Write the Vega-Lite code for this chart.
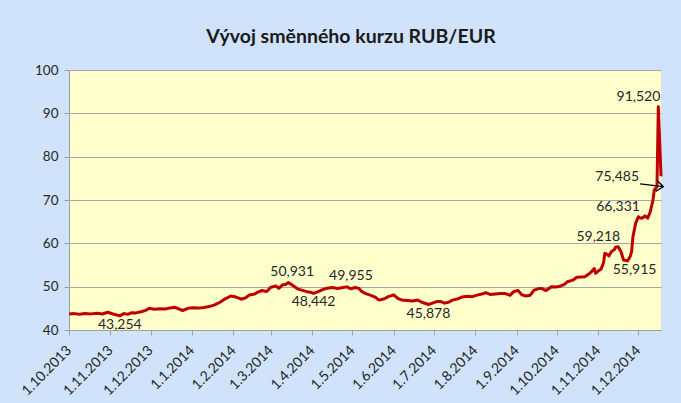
{
  "$schema": "https://vega.github.io/schema/vega-lite/v6.json",
  "width": 592,
  "height": 260,
  "autosize": {"type": "none"},
  "padding": {"left": 69, "top": 70, "right": 20, "bottom": 73},
  "background": "#d0e3fb",
  "config": {
    "view": {"fill": "#ffffcc", "stroke": null},
    "font": "Lato"
  },
  "title": {
    "text": "Vývoj směnného kurzu RUB/EUR",
    "font": "Lato",
    "fontSize": 19.5,
    "fontWeight": "bold",
    "color": "#1a1a1a",
    "anchor": "middle",
    "frame": "group",
    "dx": -14,
    "offset": 16
  },
  "datasets": {
    "series": [
      {"date": "2013-10-01", "rate": 43.70},
      {"date": "2013-10-05", "rate": 43.78},
      {"date": "2013-10-09", "rate": 43.65},
      {"date": "2013-10-13", "rate": 43.80},
      {"date": "2013-10-17", "rate": 43.72},
      {"date": "2013-10-22", "rate": 43.85},
      {"date": "2013-10-26", "rate": 43.70},
      {"date": "2013-10-30", "rate": 44.10},
      {"date": "2013-11-03", "rate": 43.70},
      {"date": "2013-11-08", "rate": 43.254},
      {"date": "2013-11-11", "rate": 43.80},
      {"date": "2013-11-14", "rate": 43.60},
      {"date": "2013-11-17", "rate": 44.00},
      {"date": "2013-11-20", "rate": 43.95},
      {"date": "2013-11-24", "rate": 44.20},
      {"date": "2013-11-28", "rate": 44.60},
      {"date": "2013-11-30", "rate": 45.00},
      {"date": "2013-12-04", "rate": 44.80},
      {"date": "2013-12-08", "rate": 44.90},
      {"date": "2013-12-12", "rate": 44.85},
      {"date": "2013-12-16", "rate": 45.10},
      {"date": "2013-12-19", "rate": 45.25},
      {"date": "2013-12-22", "rate": 44.90},
      {"date": "2013-12-25", "rate": 44.50},
      {"date": "2013-12-29", "rate": 45.00},
      {"date": "2014-01-02", "rate": 45.15},
      {"date": "2014-01-06", "rate": 45.05},
      {"date": "2014-01-10", "rate": 45.20},
      {"date": "2014-01-14", "rate": 45.40},
      {"date": "2014-01-18", "rate": 45.80},
      {"date": "2014-01-22", "rate": 46.40},
      {"date": "2014-01-26", "rate": 47.20},
      {"date": "2014-01-30", "rate": 47.85},
      {"date": "2014-02-03", "rate": 47.60},
      {"date": "2014-02-07", "rate": 47.10},
      {"date": "2014-02-10", "rate": 47.40},
      {"date": "2014-02-13", "rate": 48.10},
      {"date": "2014-02-17", "rate": 48.30},
      {"date": "2014-02-19", "rate": 48.70},
      {"date": "2014-02-22", "rate": 49.10},
      {"date": "2014-02-26", "rate": 48.90},
      {"date": "2014-03-01", "rate": 49.85},
      {"date": "2014-03-05", "rate": 50.15},
      {"date": "2014-03-07", "rate": 49.60},
      {"date": "2014-03-10", "rate": 50.45},
      {"date": "2014-03-12", "rate": 50.50},
      {"date": "2014-03-14", "rate": 50.931},
      {"date": "2014-03-16", "rate": 50.60},
      {"date": "2014-03-18", "rate": 50.15},
      {"date": "2014-03-21", "rate": 49.50},
      {"date": "2014-03-24", "rate": 49.20},
      {"date": "2014-03-28", "rate": 48.85},
      {"date": "2014-03-31", "rate": 48.70},
      {"date": "2014-04-02", "rate": 48.442},
      {"date": "2014-04-05", "rate": 48.80},
      {"date": "2014-04-08", "rate": 49.20},
      {"date": "2014-04-12", "rate": 49.65},
      {"date": "2014-04-16", "rate": 49.80},
      {"date": "2014-04-20", "rate": 49.60},
      {"date": "2014-04-24", "rate": 49.80},
      {"date": "2014-04-27", "rate": 49.955},
      {"date": "2014-04-30", "rate": 49.50},
      {"date": "2014-05-03", "rate": 49.80},
      {"date": "2014-05-06", "rate": 49.60},
      {"date": "2014-05-08", "rate": 48.90},
      {"date": "2014-05-11", "rate": 48.40},
      {"date": "2014-05-15", "rate": 48.00},
      {"date": "2014-05-18", "rate": 47.60},
      {"date": "2014-05-21", "rate": 46.90},
      {"date": "2014-05-25", "rate": 47.20},
      {"date": "2014-05-28", "rate": 47.70},
      {"date": "2014-06-01", "rate": 48.10},
      {"date": "2014-06-04", "rate": 47.30},
      {"date": "2014-06-07", "rate": 46.90},
      {"date": "2014-06-11", "rate": 46.80},
      {"date": "2014-06-15", "rate": 46.70},
      {"date": "2014-06-19", "rate": 46.90},
      {"date": "2014-06-22", "rate": 46.40},
      {"date": "2014-06-27", "rate": 45.878},
      {"date": "2014-06-30", "rate": 46.20},
      {"date": "2014-07-03", "rate": 46.55},
      {"date": "2014-07-06", "rate": 46.60},
      {"date": "2014-07-09", "rate": 46.20},
      {"date": "2014-07-12", "rate": 46.40},
      {"date": "2014-07-15", "rate": 46.90},
      {"date": "2014-07-19", "rate": 47.20},
      {"date": "2014-07-22", "rate": 47.60},
      {"date": "2014-07-26", "rate": 47.80},
      {"date": "2014-07-30", "rate": 47.70},
      {"date": "2014-08-03", "rate": 48.10},
      {"date": "2014-08-06", "rate": 48.30},
      {"date": "2014-08-09", "rate": 48.60},
      {"date": "2014-08-12", "rate": 48.20},
      {"date": "2014-08-16", "rate": 48.30},
      {"date": "2014-08-20", "rate": 48.40},
      {"date": "2014-08-23", "rate": 48.45},
      {"date": "2014-08-27", "rate": 48.00},
      {"date": "2014-08-30", "rate": 48.90},
      {"date": "2014-09-02", "rate": 49.10},
      {"date": "2014-09-05", "rate": 48.10},
      {"date": "2014-09-08", "rate": 47.85},
      {"date": "2014-09-11", "rate": 48.00},
      {"date": "2014-09-14", "rate": 49.20},
      {"date": "2014-09-18", "rate": 49.60},
      {"date": "2014-09-20", "rate": 49.55},
      {"date": "2014-09-23", "rate": 49.10},
      {"date": "2014-09-27", "rate": 50.00},
      {"date": "2014-10-01", "rate": 49.95},
      {"date": "2014-10-04", "rate": 50.15},
      {"date": "2014-10-07", "rate": 50.60},
      {"date": "2014-10-09", "rate": 51.15},
      {"date": "2014-10-13", "rate": 51.50},
      {"date": "2014-10-16", "rate": 52.15},
      {"date": "2014-10-19", "rate": 52.25},
      {"date": "2014-10-22", "rate": 52.30},
      {"date": "2014-10-25", "rate": 52.90},
      {"date": "2014-10-27", "rate": 53.45},
      {"date": "2014-10-29", "rate": 54.20},
      {"date": "2014-10-30", "rate": 53.10},
      {"date": "2014-11-01", "rate": 53.60},
      {"date": "2014-11-03", "rate": 54.00},
      {"date": "2014-11-05", "rate": 55.50},
      {"date": "2014-11-06", "rate": 57.70},
      {"date": "2014-11-08", "rate": 57.40},
      {"date": "2014-11-09", "rate": 57.10},
      {"date": "2014-11-11", "rate": 58.10},
      {"date": "2014-11-13", "rate": 58.50},
      {"date": "2014-11-14", "rate": 59.10},
      {"date": "2014-11-16", "rate": 59.218},
      {"date": "2014-11-18", "rate": 58.10},
      {"date": "2014-11-20", "rate": 56.15},
      {"date": "2014-11-22", "rate": 56.00},
      {"date": "2014-11-23", "rate": 55.915},
      {"date": "2014-11-25", "rate": 57.00},
      {"date": "2014-11-26", "rate": 58.10},
      {"date": "2014-11-27", "rate": 61.50},
      {"date": "2014-11-29", "rate": 64.60},
      {"date": "2014-12-01", "rate": 66.15},
      {"date": "2014-12-02", "rate": 65.90},
      {"date": "2014-12-04", "rate": 65.80},
      {"date": "2014-12-06", "rate": 66.331},
      {"date": "2014-12-08", "rate": 65.80},
      {"date": "2014-12-10", "rate": 67.30},
      {"date": "2014-12-12", "rate": 70.00},
      {"date": "2014-12-13", "rate": 72.30},
      {"date": "2014-12-15", "rate": 73.10},
      {"date": "2014-12-16", "rate": 91.52},
      {"date": "2014-12-18", "rate": 75.485}
    ],
    "labels": [
      {"date": "2013-11-08", "rate": 43.254, "label": "43,254", "pos": "below"},
      {"date": "2014-04-02", "rate": 48.442, "label": "48,442", "pos": "below"},
      {"date": "2014-06-27", "rate": 45.878, "label": "45,878", "pos": "below"},
      {"date": "2014-11-23", "rate": 55.915, "label": "55,915", "pos": "belowright"},
      {"date": "2014-03-14", "rate": 50.931, "label": "50,931", "pos": "above"},
      {"date": "2014-04-27", "rate": 49.955, "label": "49,955", "pos": "above"},
      {"date": "2014-11-16", "rate": 59.218, "label": "59,218", "pos": "aboveleft"},
      {"date": "2014-12-16", "rate": 91.52, "label": "91,520", "pos": "aboveleft"},
      {"date": "2014-12-06", "rate": 66.331, "label": "66,331", "pos": "left"}
    ],
    "arrow": [
      {"date": "2014-12-02T08:00:00Z", "rate": 73.7, "date2": "2014-12-19T17:00:00Z", "rate2": 73.07, "label": "75,485"}
    ],
    "arrowhead": [
      {"date": "2014-12-19T17:00:00Z", "rate": 73.07}
    ]
  },
  "encoding": {
    "x": {
      "field": "date", "type": "temporal",
      "scale": {"type": "utc", "domain": [{"year": 2013, "month": 10, "date": 1, "utc": true}, {"year": 2014, "month": 12, "date": 18, "utc": true}]},
      "axis": {
        "title": null,
        "grid": false,
        "values": [
          {"year": 2013, "month": 10, "date": 1, "utc": true},
          {"year": 2013, "month": 11, "date": 1, "utc": true},
          {"year": 2013, "month": 12, "date": 1, "utc": true},
          {"year": 2014, "month": 1, "date": 1, "utc": true},
          {"year": 2014, "month": 2, "date": 1, "utc": true},
          {"year": 2014, "month": 3, "date": 1, "utc": true},
          {"year": 2014, "month": 4, "date": 1, "utc": true},
          {"year": 2014, "month": 5, "date": 1, "utc": true},
          {"year": 2014, "month": 6, "date": 1, "utc": true},
          {"year": 2014, "month": 7, "date": 1, "utc": true},
          {"year": 2014, "month": 8, "date": 1, "utc": true},
          {"year": 2014, "month": 9, "date": 1, "utc": true},
          {"year": 2014, "month": 10, "date": 1, "utc": true},
          {"year": 2014, "month": 11, "date": 1, "utc": true},
          {"year": 2014, "month": 12, "date": 1, "utc": true}
        ],
        "labelExpr": "utcFormat(datum.value, '%-d.%-m.%Y')",
        "labelAngle": -45,
        "labelAlign": "right",
        "labelBaseline": "middle",
        "labelPadding": 13,
        "labelFont": "Lato",
        "labelFontSize": 14,
        "labelColor": "#262626",
        "labelOverlap": false,
        "labelFlush": false,
        "domainColor": "#a0a0a0",
        "tickColor": "#a0a0a0",
        "tickSize": 5
      }
    },
    "y": {
      "field": "rate", "type": "quantitative",
      "scale": {"domain": [40, 100], "nice": false, "zero": false},
      "axis": {
        "title": null,
        "values": [40, 50, 60, 70, 80, 90, 100],
        "grid": true,
        "gridColor": "#a6a6a6",
        "labelFont": "Lato",
        "labelFontSize": 13.5,
        "labelColor": "#262626",
        "labelPadding": 6,
        "domainColor": "#a0a0a0",
        "tickColor": "#a0a0a0",
        "tickSize": 5
      }
    }
  },
  "layer": [
    {
      "data": {"name": "series"},
      "mark": {"type": "line", "color": "#c00000", "strokeWidth": 3, "strokeJoin": "round"}
    },
    {
      "data": {"name": "labels"},
      "transform": [{"filter": "datum.pos === 'below'"}],
      "mark": {"type": "text", "align": "center", "baseline": "top", "dy": 2, "font": "Lato", "fontSize": 14, "color": "#262626"},
      "encoding": {"text": {"field": "label"}}
    },
    {
      "data": {"name": "labels"},
      "transform": [{"filter": "datum.pos === 'belowright'"}],
      "mark": {"type": "text", "align": "center", "baseline": "top", "dx": 7, "dy": 2, "font": "Lato", "fontSize": 14, "color": "#262626"},
      "encoding": {"text": {"field": "label"}}
    },
    {
      "data": {"name": "labels"},
      "transform": [{"filter": "datum.pos === 'above'"}],
      "mark": {"type": "text", "align": "center", "baseline": "bottom", "dx": 4, "dy": -4, "font": "Lato", "fontSize": 14, "color": "#262626"},
      "encoding": {"text": {"field": "label"}}
    },
    {
      "data": {"name": "labels"},
      "transform": [{"filter": "datum.pos === 'aboveleft'"}],
      "mark": {"type": "text", "align": "right", "baseline": "bottom", "dx": 2, "dy": -3, "font": "Lato", "fontSize": 14, "color": "#262626"},
      "encoding": {"text": {"field": "label"}}
    },
    {
      "data": {"name": "labels"},
      "transform": [{"filter": "datum.pos === 'left'"}],
      "mark": {"type": "text", "align": "right", "baseline": "middle", "dx": -5, "dy": -9, "font": "Lato", "fontSize": 14, "color": "#262626"},
      "encoding": {"text": {"field": "label"}}
    },
    {
      "data": {"name": "arrow"},
      "mark": {"type": "rule", "color": "#000000", "strokeWidth": 1.3},
      "encoding": {
        "x2": {"field": "date2"},
        "y2": {"field": "rate2"}
      }
    },
    {
      "data": {"name": "arrowhead"},
      "mark": {"type": "point", "shape": "M -1 -0.8 L 0 0 L -1 0.8", "filled": false, "stroke": "#000000", "strokeWidth": 1.3, "size": 196, "angle": 7, "opacity": 1}
    },
    {
      "data": {"name": "arrow"},
      "mark": {"type": "text", "align": "right", "baseline": "bottom", "dx": -1, "dy": 0, "font": "Lato", "fontSize": 14, "color": "#262626"},
      "encoding": {"text": {"field": "label"}}
    }
  ]
}
